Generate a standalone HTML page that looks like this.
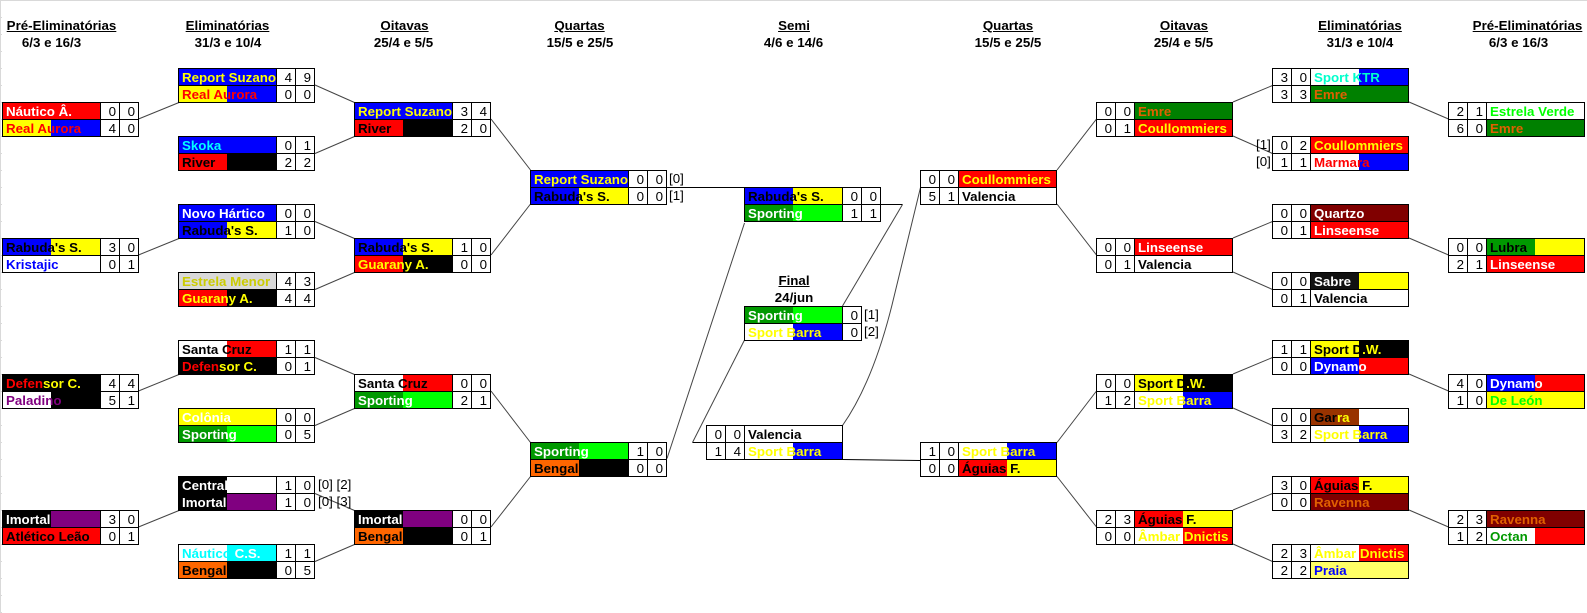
<!DOCTYPE html>
<html lang="pt"><head><meta charset="utf-8"><title>Chaveamento</title>
<style>
html,body{margin:0;padding:0;background:#fff}
body{position:relative;width:1587px;height:613px;overflow:hidden;font-family:"Liberation Sans",Arial,sans-serif;font-size:13.33px;color:#000}
.bar{position:absolute;background:#d9d9d9}
.tick{position:absolute;left:1px;top:0;width:1px;height:613px;background:repeating-linear-gradient(180deg,#d9d9d9 0,#d9d9d9 1px,transparent 1px,transparent 17px)}
.m{position:absolute;display:grid;gap:1px;padding:1px;background:#000;grid-template-columns:97px 18px 18px;grid-auto-rows:16px;line-height:18px}
.r{grid-template-columns:18px 18px 97px}
.f{grid-template-columns:97px 18px}
.n{--a:#fff;--b:#fff;background:linear-gradient(90deg,var(--a) 48px,var(--b) 48px);font-weight:bold;padding-left:3px;white-space:nowrap;overflow:hidden;color:#000}
.s{background:#fff;text-align:right;padding-right:3px;box-sizing:border-box;overflow:hidden}
.h{position:absolute;text-align:center;font-weight:bold;white-space:nowrap;line-height:16px;transform:translateX(-50%)}
.u{text-decoration:underline}
.t{position:absolute;white-space:nowrap;line-height:16px}
svg{position:absolute;left:0;top:0}
.rs{--a:#00f;--b:#00f;color:#ff0}.ra{--a:#ff0;--b:#00f;color:#f00}.rb{--a:#00f;--b:#ff0}
.ri{--a:#f00;--b:#000}.gu{--a:#f00;--b:#000;color:#ff0}.sc{--b:#f00}
.df{--a:#000;--b:#000;color:#f00}.df i,.sd i,.ga i{font-style:normal;color:#ff0}
.sp{--a:#090;--b:#0f0;color:#fff}.bg{--a:#f60;--b:#000}.im{--a:#000;--b:#800080;color:#fff}
.sb{--b:#00f;color:#ff0}.ce{--a:#000;color:#fff}.nc{--b:#0ff;color:#0ff}.nc i{font-style:normal;color:#fff}
.na{--a:#f00;--b:#f00;color:#fff}.em{--a:#d9d9d9;--b:#d9d9d9;color:#cc0}.kr{color:#00f}
.pa{--b:#000;color:#800080}.al{--a:#f00;--b:#f00}.sk{--a:#00f;--b:#00f;color:#0ff}
.no{--a:#00f;--b:#00f;color:#fff}.co{--a:#ff0;--b:#ff0;color:#fff}.cl{--a:#f00;--b:#f00;color:#ff0}
.ma{--b:#00f;color:#f00}.qu{--a:#800000;--b:#800000;color:#fff}.li{--a:#f00;--b:#f00;color:#fff}
.sa{--a:#111;--b:#ff0;color:#fff}.ev{color:#0f0}.lu{--a:#090;--b:#ff0}
.sd{--a:#ff0;--b:#000}.dy{--a:#00f;--b:#f00;color:#fff}.dl{--a:#ff0;--b:#ff0;color:#0f0}
.ga{--a:#930}.ag{--a:#f00;--b:#ff0}.am{--b:#f00;color:#ff0}.rv{--a:#800000;--b:#800000;color:#e06000}
.pr{--a:#ff6;--b:#ff6;color:#00f}.oc{--b:#f00;color:#090}.ek{--a:#008000;--b:#008000;color:#e06000}
.kt{--b:#00f;color:#0fc}
</style></head><body>
<div class="bar" style="left:0;top:0;width:1587px;height:1px"></div>
<div class="bar" style="left:0;top:0;width:1px;height:613px"></div>
<div class="tick"></div>

<svg width="1587" height="613" viewBox="0 0 1587 613" fill="none" stroke="#444" stroke-width="1">
<path d="M138.5 119L179 102.5M138.5 255L179 238.5M138.5 391L179 374.5M138.5 527L179 510.5"/>
<path d="M315 85L354.5 102.5M315 153.5L354.5 136.5M315 221.5L354.5 238.5M315 289.5L354.5 272.5M315 357.5L354.5 374.5M315 425.5L354.5 408.5M315 493.5L354.5 510.5M315 561.5L354.5 544.5"/>
<path d="M491 119L530.5 170M491 255L530.5 204M491 391L530.5 442.5M491 527L530.5 476.5"/>
<path d="M667 458.5L744.5 223"/>
<path d="M692.5 442.5L744.5 340"/>
<path d="M842.5 306L902.5 204.5"/>
<path d="M842.5 425.5C866 392 882 345 892 305L920.5 187.5"/>
<path d="M1057 170L1096.5 119M1057 204L1096.5 255M1057 442.5L1096.5 391M1057 476.5L1096.5 527"/>
<path d="M1233 102L1272.5 85.5M1233 136L1272.5 153.5M1233 238L1272.5 221.5M1233 272L1272.5 289.5M1233 374L1272.5 357.5M1233 408L1272.5 425.5M1233 510L1272.5 493.5M1233 544L1272.5 561.5"/>
<path d="M1409 102L1448.5 119M1409 238L1448.5 255M1409 374L1448.5 391M1409 510L1448.5 527"/>
<g stroke="#000">
<path d="M667 187.5H744M692.5 442.5H706M881 204.5H902.5M842.5 459.5L920 460.5"/>
</g>
</svg>

<div class="h u" style="left:61.5px;top:18px">Pré-Eliminatórias</div><div class="h" style="left:51.5px;top:35px">6/3 e 16/3</div>
<div class="h u" style="left:227.5px;top:18px">Eliminatórias</div><div class="h" style="left:228px;top:35px">31/3 e 10/4</div>
<div class="h u" style="left:404.5px;top:18px">Oitavas</div><div class="h" style="left:403.5px;top:35px">25/4 e 5/5</div>
<div class="h u" style="left:579.5px;top:18px">Quartas</div><div class="h" style="left:580px;top:35px">15/5 e 25/5</div>
<div class="h u" style="left:794px;top:18px">Semi</div><div class="h" style="left:793.5px;top:35px">4/6 e 14/6</div>
<div class="h u" style="left:794px;top:273px">Final</div><div class="h" style="left:794px;top:290px">24/jun</div>
<div class="h u" style="left:1008px;top:18px">Quartas</div><div class="h" style="left:1008px;top:35px">15/5 e 25/5</div>
<div class="h u" style="left:1184px;top:18px">Oitavas</div><div class="h" style="left:1183.5px;top:35px">25/4 e 5/5</div>
<div class="h u" style="left:1360px;top:18px">Eliminatórias</div><div class="h" style="left:1360px;top:35px">31/3 e 10/4</div>
<div class="h u" style="left:1527.5px;top:18px">Pré-Eliminatórias</div><div class="h" style="left:1518.5px;top:35px">6/3 e 16/3</div>

<!-- Pre left -->
<div class="m" style="left:2px;top:102px"><div class="n na">Náutico Â.</div><div class="s">0</div><div class="s">0</div><div class="n ra">Real Aurora</div><div class="s">4</div><div class="s">0</div></div>
<div class="m" style="left:2px;top:238px"><div class="n rb">Rabuda's S.</div><div class="s">3</div><div class="s">0</div><div class="n kr">Kristajic</div><div class="s">0</div><div class="s">1</div></div>
<div class="m" style="left:2px;top:374px"><div class="n df">Defen<i>sor C.</i></div><div class="s">4</div><div class="s">4</div><div class="n pa">Paladino</div><div class="s">5</div><div class="s">1</div></div>
<div class="m" style="left:2px;top:510px"><div class="n im">Imortal</div><div class="s">3</div><div class="s">0</div><div class="n al">Atlético Leão</div><div class="s">0</div><div class="s">1</div></div>

<!-- Elim left -->
<div class="m" style="left:178px;top:68px"><div class="n rs">Report Suzano</div><div class="s">4</div><div class="s">9</div><div class="n ra">Real Aurora</div><div class="s">0</div><div class="s">0</div></div>
<div class="m" style="left:178px;top:136px"><div class="n sk">Skoka</div><div class="s">0</div><div class="s">1</div><div class="n ri">River</div><div class="s">2</div><div class="s">2</div></div>
<div class="m" style="left:178px;top:204px"><div class="n no">Novo Hártico</div><div class="s">0</div><div class="s">0</div><div class="n rb">Rabuda's S.</div><div class="s">1</div><div class="s">0</div></div>
<div class="m" style="left:178px;top:272px"><div class="n em">Estrela Menor</div><div class="s">4</div><div class="s">3</div><div class="n gu">Guarany A.</div><div class="s">4</div><div class="s">4</div></div>
<div class="m" style="left:178px;top:340px"><div class="n sc">Santa Cruz</div><div class="s">1</div><div class="s">1</div><div class="n df">Defen<i>sor C.</i></div><div class="s">0</div><div class="s">1</div></div>
<div class="m" style="left:178px;top:408px"><div class="n co">Colônia</div><div class="s">0</div><div class="s">0</div><div class="n sp">Sporting</div><div class="s">0</div><div class="s">5</div></div>
<div class="m" style="left:178px;top:476px"><div class="n ce">Central</div><div class="s">1</div><div class="s">0</div><div class="n im">Imortal</div><div class="s">1</div><div class="s">0</div></div>
<div class="m" style="left:178px;top:544px"><div class="n nc">Náutico<i> C.S.</i></div><div class="s">1</div><div class="s">1</div><div class="n bg">Bengali</div><div class="s">0</div><div class="s">5</div></div>
<div class="t" style="left:318px;top:477px">[0] [2]</div>
<div class="t" style="left:318px;top:494px">[0] [3]</div>

<!-- Oitavas left -->
<div class="m" style="left:354px;top:102px"><div class="n rs">Report Suzano</div><div class="s">3</div><div class="s">4</div><div class="n ri">River</div><div class="s">2</div><div class="s">0</div></div>
<div class="m" style="left:354px;top:238px"><div class="n rb">Rabuda's S.</div><div class="s">1</div><div class="s">0</div><div class="n gu">Guarany A.</div><div class="s">0</div><div class="s">0</div></div>
<div class="m" style="left:354px;top:374px"><div class="n sc">Santa Cruz</div><div class="s">0</div><div class="s">0</div><div class="n sp">Sporting</div><div class="s">2</div><div class="s">1</div></div>
<div class="m" style="left:354px;top:510px"><div class="n im">Imortal</div><div class="s">0</div><div class="s">0</div><div class="n bg">Bengali</div><div class="s">0</div><div class="s">1</div></div>

<!-- Quartas left -->
<div class="m" style="left:530px;top:170px"><div class="n rs">Report Suzano</div><div class="s">0</div><div class="s">0</div><div class="n rb">Rabuda's S.</div><div class="s">0</div><div class="s">0</div></div>
<div class="t" style="left:669px;top:171px">[0]</div>
<div class="t" style="left:669px;top:188px">[1]</div>
<div class="m" style="left:530px;top:442px"><div class="n sp">Sporting</div><div class="s">1</div><div class="s">0</div><div class="n bg">Bengali</div><div class="s">0</div><div class="s">0</div></div>

<!-- Semi -->
<div class="m" style="left:744px;top:187px"><div class="n rb">Rabuda's S.</div><div class="s">0</div><div class="s">0</div><div class="n sp">Sporting</div><div class="s">1</div><div class="s">1</div></div>
<div class="m r" style="left:706px;top:425px"><div class="s">0</div><div class="s">0</div><div class="n">Valencia</div><div class="s">1</div><div class="s">4</div><div class="n sb">Sport Barra</div></div>

<!-- Final -->
<div class="m f" style="left:744px;top:306px"><div class="n sp">Sporting</div><div class="s">0</div><div class="n sb">Sport Barra</div><div class="s">0</div></div>
<div class="t" style="left:864px;top:307px">[1]</div>
<div class="t" style="left:864px;top:324px">[2]</div>

<!-- Quartas right -->
<div class="m r" style="left:920px;top:170px"><div class="s">0</div><div class="s">0</div><div class="n cl">Coullommiers</div><div class="s">5</div><div class="s">1</div><div class="n">Valencia</div></div>
<div class="m r" style="left:920px;top:442px"><div class="s">1</div><div class="s">0</div><div class="n sb">Sport Barra</div><div class="s">0</div><div class="s">0</div><div class="n ag">Águias F.</div></div>

<!-- Oitavas right -->
<div class="m r" style="left:1096px;top:102px"><div class="s">0</div><div class="s">0</div><div class="n ek">Emre</div><div class="s">0</div><div class="s">1</div><div class="n cl">Coullommiers</div></div>
<div class="m r" style="left:1096px;top:238px"><div class="s">0</div><div class="s">0</div><div class="n li">Linseense</div><div class="s">0</div><div class="s">1</div><div class="n">Valencia</div></div>
<div class="m r" style="left:1096px;top:374px"><div class="s">0</div><div class="s">0</div><div class="n sd">Sport D<i>.W.</i></div><div class="s">1</div><div class="s">2</div><div class="n sb">Sport Barra</div></div>
<div class="m r" style="left:1096px;top:510px"><div class="s">2</div><div class="s">3</div><div class="n ag">Águias F.</div><div class="s">0</div><div class="s">0</div><div class="n am">Âmbar Dnictis</div></div>

<!-- Elim right -->
<div class="m r" style="left:1272px;top:68px"><div class="s">3</div><div class="s">0</div><div class="n kt">Sport KTR</div><div class="s">3</div><div class="s">3</div><div class="n ek">Emre</div></div>
<div class="m r" style="left:1272px;top:136px"><div class="s">0</div><div class="s">2</div><div class="n cl">Coullommiers</div><div class="s">1</div><div class="s">1</div><div class="n ma">Marmara</div></div>
<div class="t" style="left:1256px;top:137px">[1]</div>
<div class="t" style="left:1256px;top:154px">[0]</div>
<div class="m r" style="left:1272px;top:204px"><div class="s">0</div><div class="s">0</div><div class="n qu">Quartzo</div><div class="s">0</div><div class="s">1</div><div class="n li">Linseense</div></div>
<div class="m r" style="left:1272px;top:272px"><div class="s">0</div><div class="s">0</div><div class="n sa">Sabre</div><div class="s">0</div><div class="s">1</div><div class="n">Valencia</div></div>
<div class="m r" style="left:1272px;top:340px"><div class="s">1</div><div class="s">1</div><div class="n sd">Sport D<i>.W.</i></div><div class="s">0</div><div class="s">0</div><div class="n dy">Dynamo</div></div>
<div class="m r" style="left:1272px;top:408px"><div class="s">0</div><div class="s">0</div><div class="n ga">Gar<i>ra</i></div><div class="s">3</div><div class="s">2</div><div class="n sb">Sport Barra</div></div>
<div class="m r" style="left:1272px;top:476px"><div class="s">3</div><div class="s">0</div><div class="n ag">Águias F.</div><div class="s">0</div><div class="s">0</div><div class="n rv">Ravenna</div></div>
<div class="m r" style="left:1272px;top:544px"><div class="s">2</div><div class="s">3</div><div class="n am">Âmbar Dnictis</div><div class="s">2</div><div class="s">2</div><div class="n pr">Praia</div></div>

<!-- Pre right -->
<div class="m r" style="left:1448px;top:102px"><div class="s">2</div><div class="s">1</div><div class="n ev">Estrela Verde</div><div class="s">6</div><div class="s">0</div><div class="n ek">Emre</div></div>
<div class="m r" style="left:1448px;top:238px"><div class="s">0</div><div class="s">0</div><div class="n lu">Lubra</div><div class="s">2</div><div class="s">1</div><div class="n li">Linseense</div></div>
<div class="m r" style="left:1448px;top:374px"><div class="s">4</div><div class="s">0</div><div class="n dy">Dynamo</div><div class="s">1</div><div class="s">0</div><div class="n dl">De León</div></div>
<div class="m r" style="left:1448px;top:510px"><div class="s">2</div><div class="s">3</div><div class="n rv">Ravenna</div><div class="s">1</div><div class="s">2</div><div class="n oc">Octan</div></div>
</body></html>
